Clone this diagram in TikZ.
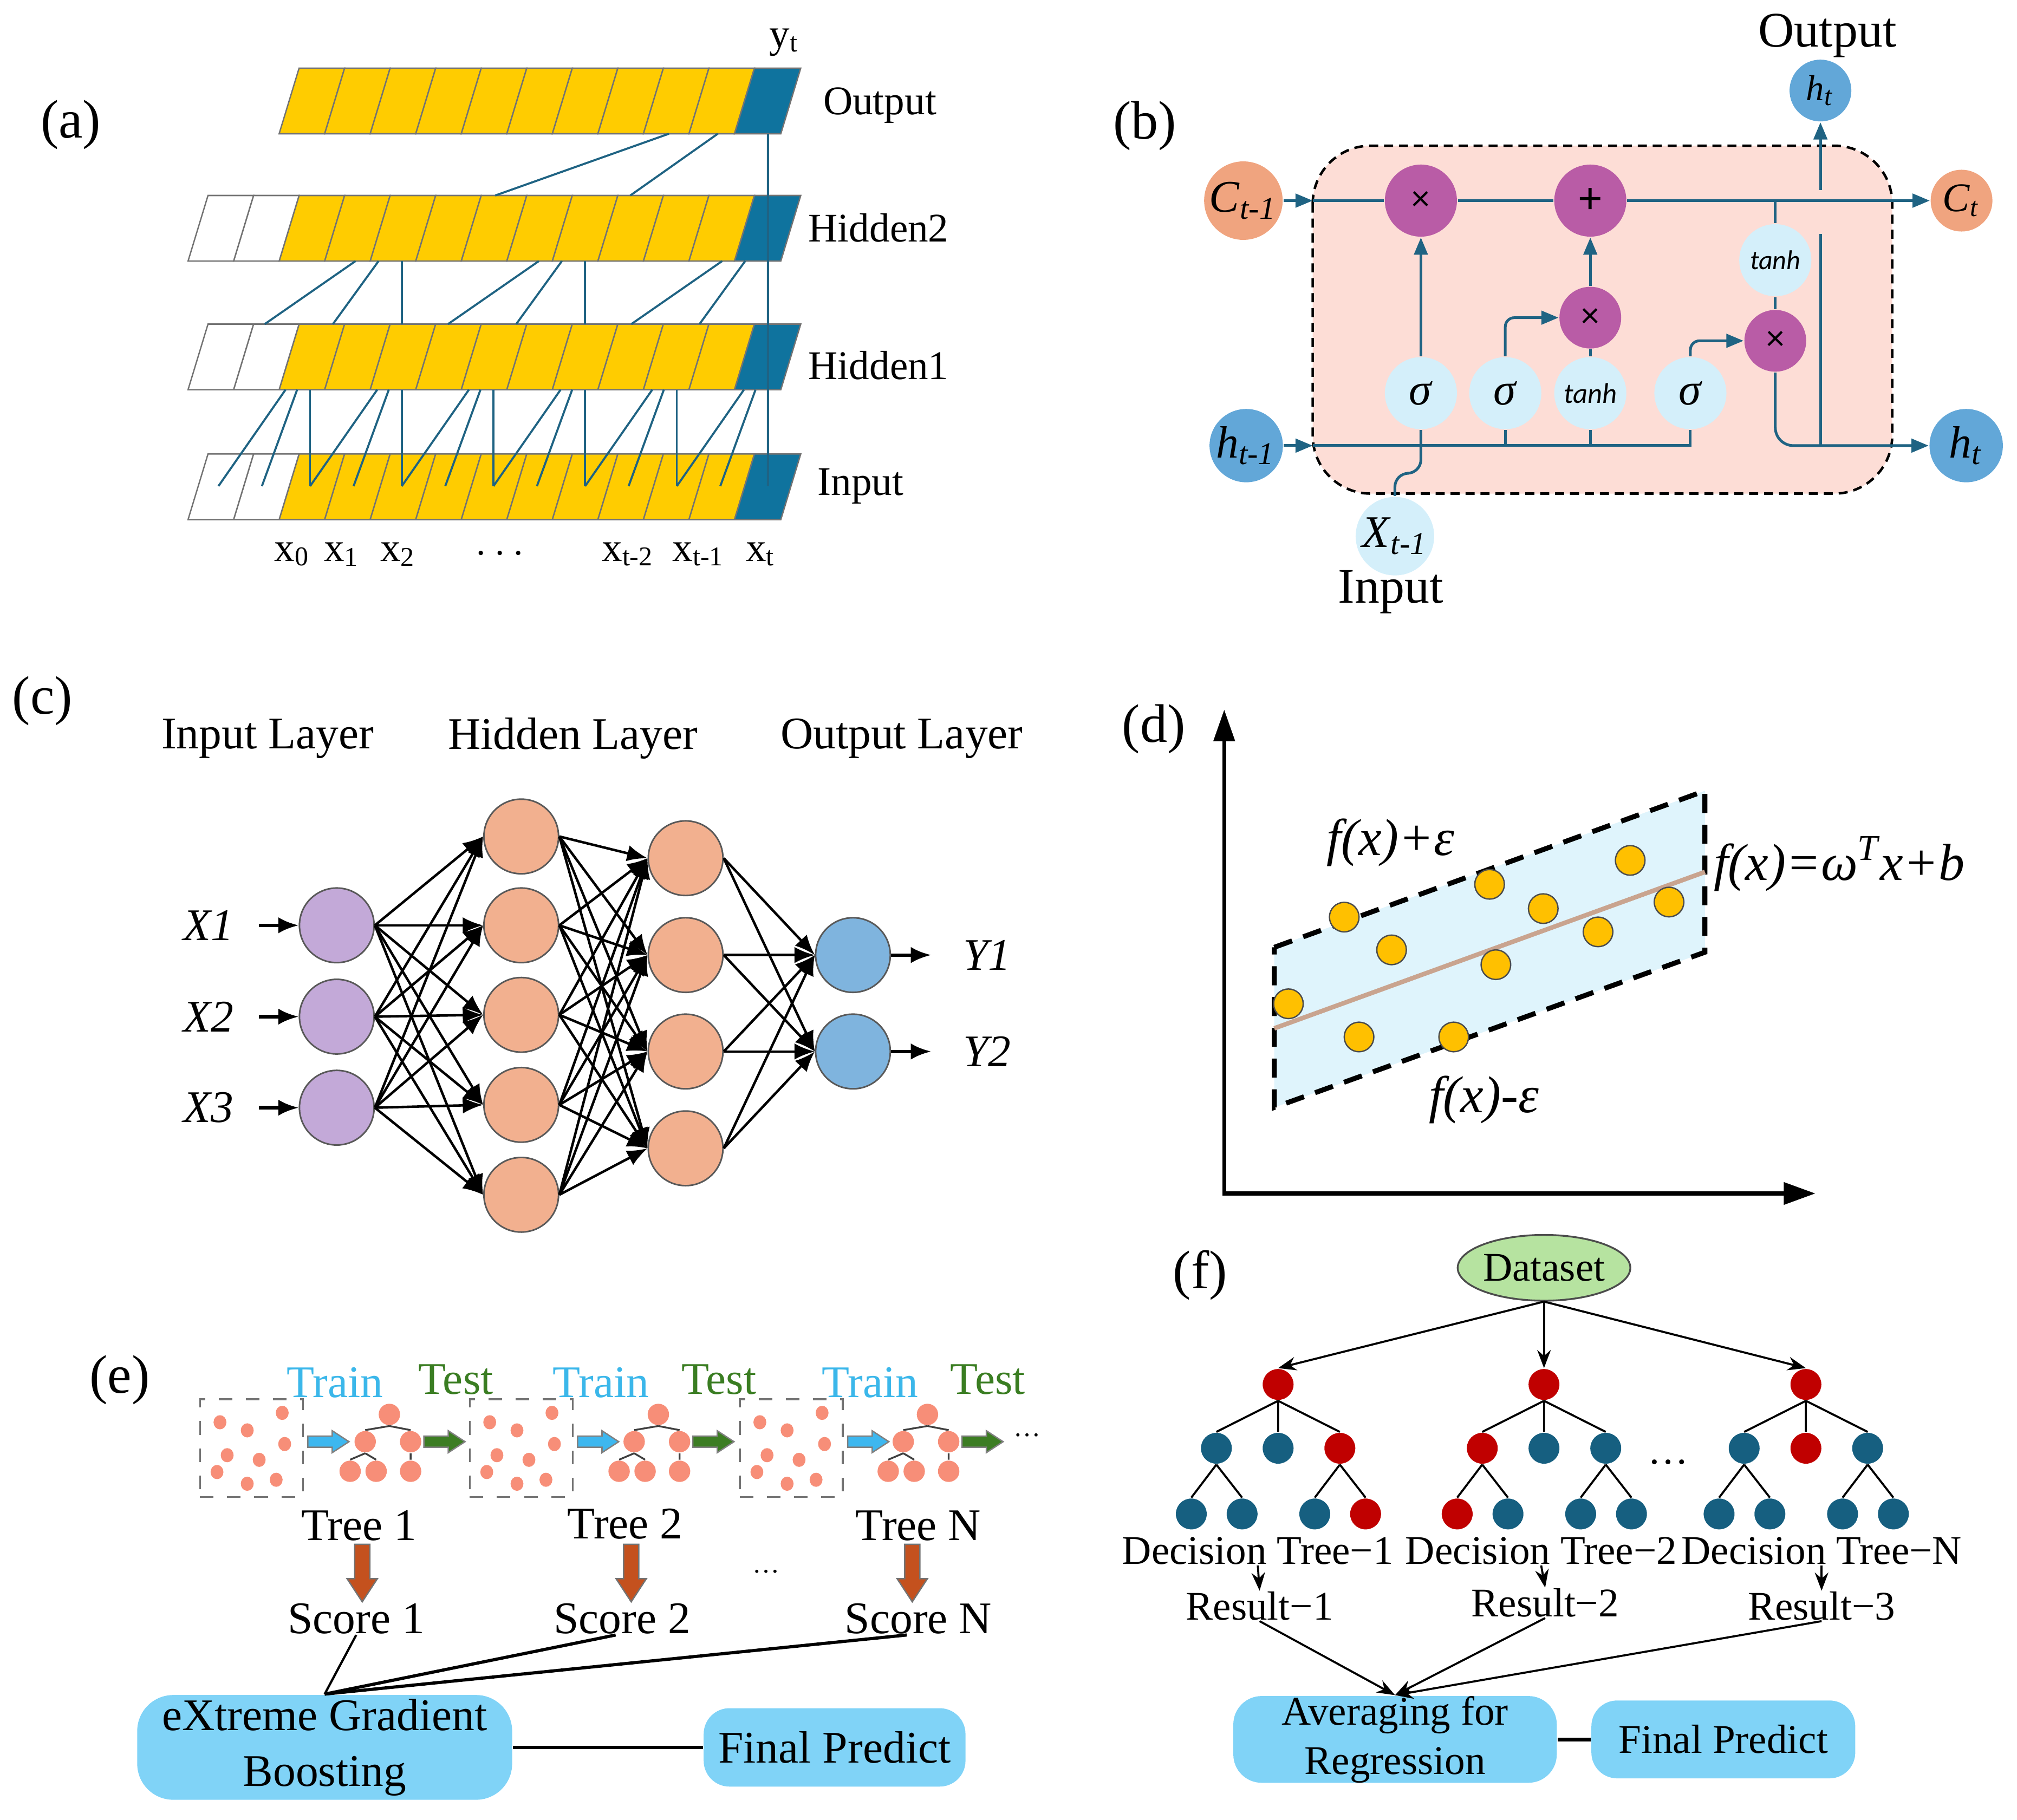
\documentclass[tikz,border=0pt]{standalone}
\usepackage{fontspec}
\setmainfont{Liberation Serif}[ItalicFont={Liberation Serif Italic}]
\newfontfamily\calib{Carlito}
\usepackage{tikz}
\usetikzlibrary{arrows.meta,calc,positioning,shapes.geometric}
\usepackage{xcolor}
\definecolor{cellyel}{HTML}{FFCC00}
\definecolor{cellblue}{HTML}{0F739E}
\definecolor{linkteal}{HTML}{1F6383}
\definecolor{lstmpink}{HTML}{FDDDD6}
\definecolor{stateorange}{HTML}{F0A47F}
\definecolor{hidblue}{HTML}{62A7D8}
\definecolor{opmag}{HTML}{B95CA6}
\definecolor{actblue}{HTML}{D4EFFA}
\definecolor{inlav}{HTML}{C3A9D8}
\definecolor{hidsal}{HTML}{F2B08F}
\definecolor{outsky}{HTML}{7FB4DE}
\definecolor{bandblue}{HTML}{DFF4FC}
\definecolor{ptgold}{HTML}{FFC000}
\definecolor{fittan}{HTML}{C9A48F}
\definecolor{dotsal}{HTML}{F78E78}
\definecolor{traintxt}{HTML}{3BB7EA}
\definecolor{testtxt}{HTML}{3A7D22}
\definecolor{trainarr}{HTML}{3DB7EF}
\definecolor{testarr}{HTML}{3C7D23}
\definecolor{scorearr}{HTML}{C4511E}
\definecolor{boxsky}{HTML}{80D3F7}
\definecolor{rfred}{HTML}{C00000}
\definecolor{rfblue}{HTML}{165F80}
\definecolor{dsgreen}{HTML}{B6E3A0}
\tikzset{t6/.style={font=\fontsize{6}{7}\selectfont}, t8/.style={font=\fontsize{8}{9}\selectfont},
 t9/.style={font=\fontsize{9}{11}\selectfont}, t10/.style={font=\fontsize{10}{12}\selectfont},
 t11/.style={font=\fontsize{11}{13}\selectfont}, t115/.style={font=\fontsize{11.5}{13}\selectfont\itshape},
 panel/.style={font=\fontsize{12}{14}\selectfont},
 cellline/.style={draw=black!55,line width=.3pt}, tdlink/.style={draw=linkteal,line width=.45pt},
 lstmline/.style={draw=linkteal,line width=.6pt}, lstmtip/.style={-{Triangle[length=3.8pt,width=3pt]}},
 gdisk/.style={circle,inner sep=0pt,text=black},
 opsym/.style={font=\calib\fontsize{8}{9}\selectfont},
 netnode/.style={circle,draw=black!65,line width=.35pt,inner sep=0pt,minimum size=.58cm},
 netarrow/.style={line width=.55pt,-{Latex[length=4.5pt,width=3.6pt]}},
 axisline/.style={line width=.9pt,{Triangle[length=7pt,width=4.6pt]}-{Triangle[length=7pt,width=4.8pt]}},
 bandline/.style={draw=black,line width=1.1pt,dash pattern=on 4.2pt off 2.6pt},
 ptdot/.style={fill=ptgold,draw=black!70,line width=.3pt},
 xdot/.style={circle,fill=dotsal,inner sep=0pt,minimum size=.166cm},
 xlink/.style={draw=black!75,line width=.4pt},
 dbox/.style={draw=black!55,dashed,line width=.4pt,minimum width=.8cm,minimum height=.76cm,inner sep=0pt},
 skybox/.style={fill=boxsky,inner sep=0pt,align=center},
 rfdot/.style={circle,inner sep=0pt,minimum size=.24cm},
 rflink/.style={draw=black,line width=.45pt},
 rfarrow/.style={rflink,-{Stealth[length=4pt,width=3pt]}},
 rarrow/.pic={\path[pic actions] (0,-4.3) -- (19,-4.3) -- (19,-8.5) -- (32,0) -- (19,8.5) -- (19,4.3) -- (0,4.3) -- cycle;},
 darrow/.pic={\path[pic actions] (-5.9,0) -- (5.9,0) -- (5.9,26.7) -- (11.8,26.7) -- (0,44.7) -- (-11.8,26.7) -- (-5.9,26.7) -- cycle;}}
\begin{document}
\begin{tikzpicture}[x=0.01cm,y=-0.01cm]
\useasboundingbox (0,0) rectangle (1568,1415);
% ---------- (a) stacked layers ----------
\node[panel] (la) at (55,97) {(a)};
\foreach \yb in {104,203,303,404}{
  \foreach \i in {0,...,9}
    \draw[cellline,fill=cellyel] ({217+35.4*\i},\yb) -- ++(35.4,0) -- ++(15.5,-51) -- ++(-35.4,0) -- cycle;
  \draw[cellline,fill=cellblue] (571,\yb) -- ++(36,0) -- ++(15.5,-51) -- ++(-36,0) -- cycle;
}
\foreach \yb in {203,303,404}
  \foreach \i in {1,2}
    \draw[cellline,fill=white] ({217-35.4*\i},\yb) -- ++(35.4,0) -- ++(15.5,-51) -- ++(-35.4,0) -- cycle;
\draw[tdlink] (520,104) -- (385,152) (558,104) -- (490,152) (597,104) -- (597,378);
\foreach \j in {0,1,2}{
  \pgfmathsetmacro{\vx}{169.8+142.5*\j}
  \draw[tdlink] ({\vx+106.6},203) -- ({\vx+36},252) ({\vx+124.5},203) -- ({\vx+89},252);
}
\foreach \j in {1,2} \draw[tdlink] ({169.8+142.5*\j},203) -- ++(0,49);
\foreach \i in {0,...,5}{
  \pgfmathsetmacro{\vx}{169.8+71.27*\i}
  \draw[tdlink] ({\vx+52.2},303) -- (\vx,378) ({\vx+61.2},303) -- ({\vx+33.8},378);
}
\foreach \i in {1,...,5} \draw[tdlink] ({169.8+71.27*\i},303) -- ++(0,75);
\node[t9] (lout) at (684,82) {Output};
\node[t9] (lh2) at (683,177) {Hidden2};
\node[t9] (lh1) at (683,284) {Hidden1};
\node[t9] (lin) at (669,378) {Input};
\node[t9] (ylab) at (610,33) {y\textsubscript{t}};
\foreach \xx/\tx in {227.5/x\textsubscript{0},266/x\textsubscript{1},309.7/x\textsubscript{2},388.6/$\cdots$,488.5/x\textsubscript{t-2},543.3/x\textsubscript{t-1},591.6/x\textsubscript{t}}
  \node[t9] at (\xx,431) {\tx};
% ---------- (b) LSTM cell ----------
\node[panel] (lb) at (890,98) {(b)};
\draw[dash pattern=on 2pt off 1.3pt,line width=.55pt,fill=lstmpink,rounded corners=.45cm] (1020.5,113.3) rectangle (1471,383.8);
\coordinate (cin) at (1020.5,156);
\coordinate (hin) at (1020.5,346.5);
\node[gdisk,fill=stateorange,minimum size=.61cm,t10] (cprev) at (966.6,156) {\textit{C}\textsubscript{\textit{t-1}}};
\node[gdisk,fill=stateorange,minimum size=.48cm,t9] (cnext) at (1524.9,156) {\textit{C}\textsubscript{\textit{t}}};
\node[gdisk,fill=hidblue,minimum size=.57cm,t10] (hprev) at (968.8,346.5) {\textit{h}\textsubscript{\textit{t-1}}};
\node[gdisk,fill=hidblue,minimum size=.57cm,t10] (hnext) at (1528.5,346.5) {\textit{h}\textsubscript{\textit{t}}};
\node[gdisk,fill=hidblue,minimum size=.48cm,t8] (hout) at (1415.2,70.4) {\textit{h}\textsubscript{\textit{t}}};
\node[gdisk,fill=opmag,minimum size=.56cm,opsym] (fmul) at (1104.6,156) {×};
\node[gdisk,fill=opmag,minimum size=.56cm,opsym] (cadd) at (1236.3,156) {\fontsize{10}{10}\selectfont +};
\node[gdisk,fill=opmag,minimum size=.48cm,opsym] (imul) at (1236.3,247) {×};
\node[gdisk,fill=opmag,minimum size=.48cm,opsym] (omul) at (1380.1,265) {×};
\node[gdisk,fill=actblue,minimum size=.56cm,font=\calib\itshape\fontsize{6}{7}\selectfont] (tanht) at (1380.1,202.3) {tanh};
\node[gdisk,fill=actblue,minimum size=.56cm,t10] (sig1) at (1104.6,305.7) {\textit{σ}};
\node[gdisk,fill=actblue,minimum size=.56cm,t10] (sig2) at (1170.2,305.7) {\textit{σ}};
\node[gdisk,fill=actblue,minimum size=.56cm,font=\calib\itshape\fontsize{6.3}{7}\selectfont] (tanhb) at (1236.3,305.7) {tanh};
\node[gdisk,fill=actblue,minimum size=.56cm,t10] (sig3) at (1314.1,305.7) {\textit{σ}};
\node[gdisk,fill=actblue,minimum size=.61cm,t10] (xin) at (1084.4,416.9) {\textit{X}\textsubscript{\textit{t-1}}};
\draw[lstmline,lstmtip] (cprev) -- (cin);
\draw[lstmline] (cin) -- (fmul);
\draw[lstmline] (fmul) -- (cadd);
\draw[lstmline,lstmtip] (cadd) -- (cnext);
\draw[lstmline,lstmtip] (hprev) -- (hin);
\draw[lstmline] (hin) -| (sig3);
\draw[lstmline] (sig2) -- (sig2 |- hin) (tanhb) -- (tanhb |- hin);
\draw[lstmline,rounded corners=3pt] (xin.north) -- (1084.4,368) -| (sig1.south);
\draw[lstmline,lstmtip] (sig1) -- (fmul);
\draw[lstmline,lstmtip,rounded corners=2pt] (sig2.north) |- (imul.west);
\draw[lstmline] (tanhb) -- (imul);
\draw[lstmline,lstmtip] (imul) -- (cadd);
\draw[lstmline,lstmtip,rounded corners=2pt] (sig3.north) |- (omul.west);
\draw[lstmline] (tanht) -- (tanht |- cnext);
\draw[lstmline] (tanht) -- (omul);
\draw[lstmline,lstmtip,rounded corners=4pt] (omul.south) |- (hnext);
\coordinate (hbr) at (hout |- hnext);
\coordinate (hgap1) at (1415.2,182);
\coordinate (hgap2) at (1415.2,147.6);
\draw[lstmline] (hbr) -- (hgap1);
\draw[lstmline,lstmtip] (hgap2) -- (hout);
\node[t11] (boutlab) at (1420.6,27.8) {Output};
\node[t11] (binlab) at (1081.2,460.1) {Input};
% ---------- (c) feed-forward net ----------
\node[panel] (lc) at (33,545) {(c)};
\node[t10] (tin) at (208,574.2) {Input Layer};
\node[t10] (thid) at (445.4,574.2) {Hidden Layer};
\node[t10] (tout) at (701,574.2) {Output Layer};
\foreach \i/\y in {1/719.5,2/790.5,3/861.3} \node[netnode,fill=inlav] (in\i) at (261.8,\y) {};
\foreach \i/\y in {1/650.4,2/719.5,3/789.1,4/859.1,5/929} \node[netnode,fill=hidsal] (ha\i) at (405.2,\y) {};
\foreach \i/\y in {1/667.3,2/742.6,3/817.6,4/892.9} \node[netnode,fill=hidsal] (hb\i) at (533,\y) {};
\foreach \i/\y in {1/742.6,2/817.6} \node[netnode,fill=outsky] (on\i) at (663.1,\y) {};
\foreach \i in {1,2,3} \foreach \j in {1,...,5} \draw[netarrow] (in\i.east) -- (ha\j.west);
\foreach \i in {1,...,5} \foreach \j in {1,...,4} \draw[netarrow] (ha\i.east) -- (hb\j.west);
\foreach \i in {1,...,4} \foreach \j in {1,2} \draw[netarrow] (hb\i.east) -- (on\j.west);
\foreach \i/\y in {1/719.5,2/790.5,3/861.3}{
  \node[t10,inner sep=0pt] (xl\i) at (162,\y) {\textit{X\i}};
  \draw[netarrow,line width=.75pt,shorten <=.19cm] (xl\i) -- (in\i);
}
\foreach \i/\y in {1/742.6,2/817.6}{
  \node[t10,inner sep=0pt] (yl\i) at (767.2,\y) {\textit{Y\i}};
  \draw[netarrow,line width=.75pt,shorten >=.24cm] (on\i) -- (yl\i);
}
% ---------- (d) SVR band ----------
\node[panel] (ld) at (897,567) {(d)};
\coordinate (orig) at (951.7,928);
\coordinate (yend) at (951.7,551.7);
\coordinate (xend) at (1411.3,928);
\draw[axisline] (yend) -- (orig) -- (xend);
\draw[bandline,fill=bandblue] (990.6,736.6) -- (1325.4,614.9) -- (1325.4,740.4) -- (990.6,861.1) -- cycle;
\draw[fittan,line width=1pt] (990.6,799.6) -- (1325.4,678);
\foreach \px/\py in {1045/713.1,1081.8/738.6,1158/687.6,1199.7/706.5,1242.3/724.6,1267.3/669,1297.5/701.4,1001.6/780.5,1056.5/806.3,1130.1/806.3,1162.9/750.1}
  \draw[ptdot] (\px,\py) circle[radius=.115cm];
\node[t115] (fplus) at (1081,655) {f(x)+ε};
\node[t115] (fmid) at (1429.7,671.6) {f(x)=ω\textsuperscript{T}x+b};
\node[t115] (fminus) at (1153.5,855) {f(x)-ε};
% ---------- (e) boosting ----------
\node[panel] (le) at (93,1073) {(e)};
\foreach \k/\bx/\tx in {1/195.5/302.7,2/405.2/511.8,3/615.2/721}{
  \node[dbox] (ebox\k) at (\bx,1126) {};
  \foreach \dx/\dy in {15.5/17.9,36.7/24.2,63.9/10.6,65.8/34.8,21.1/43.5,46/47.1,13.2/56.6,36.7/65.7,59.2/62.6}
    \fill[dotsal] ({\bx-40+\dx},{1088+\dy}) ellipse[x radius=.05cm,y radius=.055cm];
  \node[xdot] (er\k) at (\tx,1099.8) {};
  \node[xdot] (ea\k) at ({\tx-18.8},1121) {};
  \node[xdot] (eb\k) at ({\tx+16.5},1121) {};
  \node[xdot] (eaa\k) at ({\tx-30.5},1144) {};
  \node[xdot] (eab\k) at ({\tx-10.3},1144) {};
  \node[xdot] (eba\k) at ({\tx+16.5},1144) {};
  \draw[xlink] (er\k.south) -- (ea\k.north) (er\k.south) -- (eb\k.north);
  \draw[xlink] (ea\k.south) -- (eaa\k.north) (ea\k.south) -- (eab\k.north) (eb\k) -- (eba\k);
  \pic[fill=trainarr,draw=black!50,line width=.3pt] at ({\bx+43.8},1121) {rarrow};
  \pic[fill=testarr,draw=black!50,line width=.3pt] at ({\tx+26.8},1121) {rarrow};
}
\foreach \k/\trx/\tex in {1/260.4/354.4,2/467.2/558.8,3/676.3/767.9}{
  \node[t10,text=traintxt] (etr\k) at (\trx,1075) {Train};
  \node[t10,text=testtxt] (ete\k) at (\tex,1072.7) {Test};
}
\node[t6] (edots1) at (798.5,1116) {…};
\node[t6] (edots2) at (595.5,1222) {…};
\node[t10] (etree1) at (279.2,1186.3) {Tree 1};
\node[t10] (etree2) at (486,1185) {Tree 2};
\node[t10] (etree3) at (713.9,1186.3) {Tree N};
\foreach \ax in {281.6,490.7,709.2}
  \pic[fill=scorearr,draw=black!55,line width=.3pt] at (\ax,1200.8) {darrow};
\node[t10,inner sep=0pt] (esc1) at (276.9,1258.8) {Score 1};
\node[t10,inner sep=0pt] (esc2) at (483.6,1258.8) {Score 2};
\node[t10,inner sep=0pt] (esc3) at (713.9,1258.8) {Score N};
\node[skybox,rounded corners=.28cm,minimum width=2.913cm,minimum height=.814cm,font=\fontsize{10}{12.4}\selectfont] (xgb) at (252.4,1358.7) {eXtreme Gradient\\Boosting};
\node[skybox,rounded corners=.2cm,minimum width=2.034cm,minimum height=.609cm,t10] (fpe) at (648.8,1358.7) {Final Predict};
\draw[xlink,draw=black,line width=.5pt] (esc1.south) -- (xgb.north);
\draw[xlink,draw=black,line width=.7pt] ([xshift=-.05cm]esc2.south) -- (xgb.north);
\draw[xlink,draw=black,line width=.7pt] ([xshift=-.09cm]esc3.south) -- (xgb.north);
\draw[black,line width=.8pt] (xgb) -- (fpe);
% ---------- (f) random forest ----------
\node[panel] (lf) at (933,991.7) {(f)};
\node[ellipse,draw=black!70,line width=.4pt,fill=dsgreen,minimum width=1.227cm,minimum height=.511cm,inner sep=0pt,t9] (ds) at (1200.3,985.8) {Dataset};
\foreach \t/\rx/\ca/\cb/\cc/\caa/\cab/\cca/\ccb in {1/993.6/rfblue/rfblue/rfred/rfblue/rfblue/rfblue/rfred,2/1200.3/rfred/rfblue/rfblue/rfred/rfblue/rfblue/rfblue,3/1403.9/rfblue/rfred/rfblue/rfblue/rfblue/rfblue/rfblue}{
  \node[rfdot,fill=rfred] (fr\t) at (\rx,1076.5) {};
  \node[rfdot,fill=\ca] (fa\t) at ({\rx-48},1126.1) {};
  \node[rfdot,fill=\cb] (fb\t) at (\rx,1126.1) {};
  \node[rfdot,fill=\cc] (fc\t) at ({\rx+48},1126.1) {};
  \node[rfdot,fill=\caa] (faa\t) at ({\rx-67.5},1177.2) {};
  \node[rfdot,fill=\cab] (fab\t) at ({\rx-28},1177.2) {};
  \node[rfdot,fill=\cca] (fca\t) at ({\rx+28.5},1177.2) {};
  \node[rfdot,fill=\ccb] (fcb\t) at ({\rx+68},1177.2) {};
  \draw[rflink] (fr\t.south) -- (fa\t.north) (fr\t.south) -- (fb\t.north) (fr\t.south) -- (fc\t.north);
  \draw[rflink] (fa\t.south) -- (faa\t.north) (fa\t.south) -- (fab\t.north) (fc\t.south) -- (fca\t.north) (fc\t.south) -- (fcb\t.north);
  \draw[rfarrow] (ds.south) -- (fr\t.north);
}
\node[t9] (fdots) at (1297,1137) {…};
\node[t9,inner sep=0pt] (dt1) at (977.8,1205.9) {Decision Tree−1};
\node[t9,inner sep=0pt] (dt2) at (1198.1,1205.9) {Decision Tree−2};
\node[t9,inner sep=0pt] (dt3) at (1416.1,1205.9) {Decision Tree−N};
\node[t9,inner sep=0pt] (res1) at (979.2,1248.7) {Result−1};
\node[t9,inner sep=0pt] (res2) at (1201.2,1246.3) {Result−2};
\node[t9,inner sep=0pt] (res3) at (1416.1,1248.7) {Result−3};
\node[skybox,rounded corners=.22cm,minimum width=2.513cm,minimum height=.665cm,font=\fontsize{9}{10.9}\selectfont] (avg) at (1084.5,1352.5) {Averaging for\\Regression};
\node[skybox,rounded corners=.2cm,minimum width=2.05cm,minimum height=.605cm,t9] (fpf) at (1339.7,1352.5) {Final Predict};
\foreach \t in {1,2,3}{
  \draw[rfarrow] (dt\t.south) -- (res\t.north);
  \draw[rfarrow] (res\t.south) -- (avg.north);
}
\draw[rflink,line width=.8pt] (avg) -- (fpf);
\end{tikzpicture}
\end{document}
